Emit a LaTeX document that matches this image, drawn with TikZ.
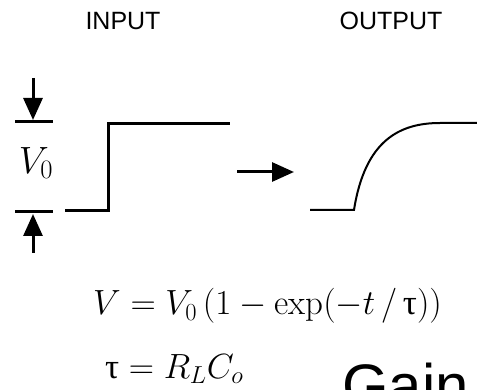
\RequirePackage{fix-cm}
\documentclass[tikz,border=0pt]{standalone}
\usepackage{fontspec}
\newfontfamily\arialfont{Liberation Sans}
\newfontfamily\timesfont{Liberation Serif}
\usetikzlibrary{arrows.meta, positioning}

\newcommand{\tauup}{\mbox{\timesfont τ}}

\begin{document}
\begin{tikzpicture}[x=1pt, y=-1pt,
    heading/.style={font=\arialfont\fontsize{25}{30}\selectfont, inner sep=0pt},
    formula/.style={font=\fontsize{35}{42}\selectfont, inner sep=0pt, anchor=base west},
    pulse/.style={line width=3pt},
    ramp/.style={line width=2pt},
    marker/.style={line width=3pt, -{Triangle[length=22pt,width=19pt]}}]
    \useasboundingbox (0,0) rectangle (477,390);
    \clip (0,0) rectangle (477,390);
    % titles
    \node[heading] (inlbl) at (123,21) {INPUT};
    \node[heading] (outlbl) at (391,21) {OUTPUT};
    % amplitude marker
    \coordinate (at0) at (33,78);
    \coordinate (at1) at (33,120);
    \coordinate (ab0) at (33,253);
    \coordinate (ab1) at (33,214);
    \coordinate (bt0) at (15,122);
    \coordinate (bt1) at (53,122);
    \coordinate (bb0) at (15,212);
    \coordinate (bb1) at (53,212);
    \draw[marker] (at0) -- (at1);
    \draw[marker] (ab0) -- (ab1);
    \draw[pulse] (bt0) -- (bt1);
    \draw[pulse] (bb0) -- (bb1);
    \node[inner sep=0pt, font=\fontsize{38}{44}\selectfont] (vlab) at (36,163) {$V_0$};
    % input step
    \coordinate (in0) at (65,211);
    \coordinate (in1) at (108,211);
    \coordinate (in2) at (108,124);
    \coordinate (in3) at (230,124);
    \draw[pulse] (in0) -- (in1) -- (in2) -- (in3);
    % arrow between
    \coordinate (mid0) at (237,172);
    \coordinate (mid1) at (294,172);
    \draw[marker] (mid0) -- (mid1);
    % output response
    \coordinate (out0) at (310,210);
    \coordinate (out1) at (354,210);
    \coordinate (out2) at (440,123);
    \coordinate (out3) at (477,123);
    \draw[ramp] (out0) -- (out1) .. controls (365,140) and (400,123) .. (out2) -- (out3);
    % equations
    \node[formula] (eqv) at (93,315) {$V = V_0\,\bigl(1 - \exp(-t\,/\,\tauup)\bigr)$};
    \node[formula] (eqtau) at (105,378) {$\tauup = R_L C_o$};
    \node[font=\arialfont\fontsize{60}{70}\selectfont, inner sep=0pt, anchor=base west] (gain) at (342,406) {Gain};
\end{tikzpicture}
\end{document}
